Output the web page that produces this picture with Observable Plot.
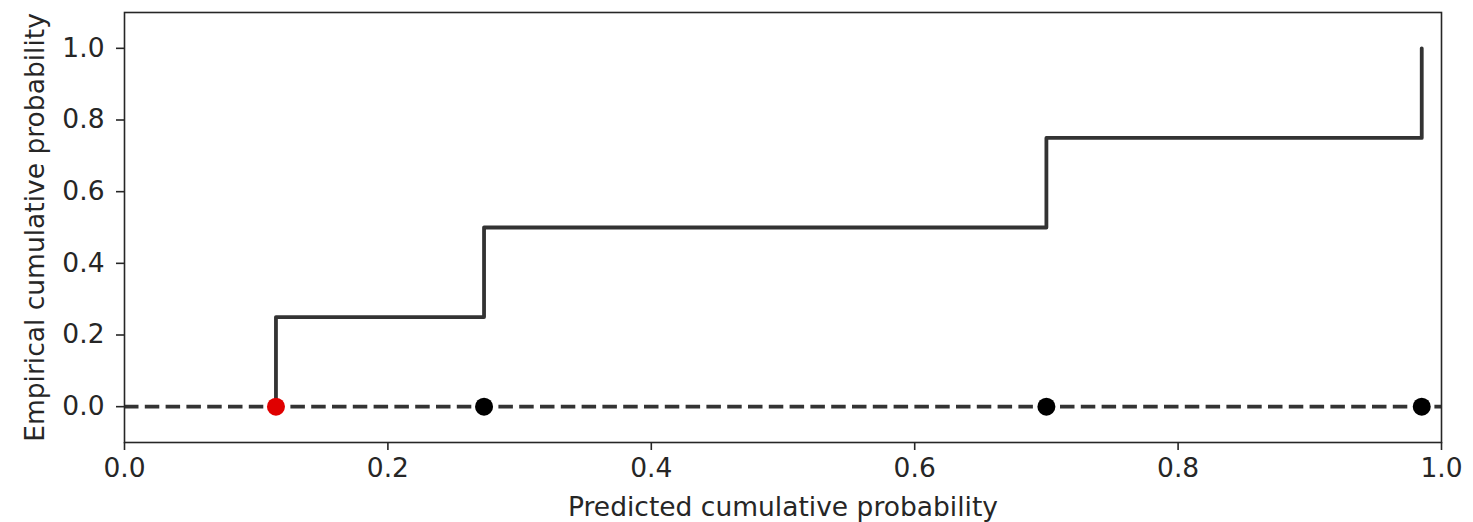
<!DOCTYPE html>
<html>
<head>
<meta charset="utf-8">
<script src="https://cdn.jsdelivr.net/npm/d3@7"></script>
<script src="https://cdn.jsdelivr.net/npm/@observablehq/plot@0.6"></script>
<style>
  html, body { margin: 0; padding: 0; background: #fff; }
  #chart svg { display: block; }
</style>
</head>
<body>
<div id="chart"></div>
<script>
// Predicted vs. empirical cumulative probability (calibration step plot)
const predicted = [0.115, 0.273, 0.700, 0.985];
const empirical = [0.25, 0.5, 0.75, 1.0];
const highlightIndex = 0; // first observation drawn in red

const xTicks = [0, 0.2, 0.4, 0.6, 0.8, 1.0];
const yTicks = [0, 0.2, 0.4, 0.6, 0.8, 1.0];
const xLabel = "Predicted cumulative probability";
const yLabel = "Empirical cumulative probability";

// Step path starts on the baseline at the first prediction
const stepData = [{x: predicted[0], y: 0}]
  .concat(predicted.map((x, i) => ({x, y: empirical[i]})));
const points = predicted.map((x, i) => ({x, y: 0, hi: i === highlightIndex}));

const ink = "#262626";
const fs = 26.5;
const fmt = d => d.toFixed(1);

const chart = Plot.plot({
  width: 1473,
  height: 522,
  marginLeft: 124,
  marginRight: 32,
  marginTop: 12,
  marginBottom: 80,
  style: {fontFamily: "'DejaVu Sans', sans-serif", fontSize: fs + "px", color: ink, background: "#fff"},
  x: {domain: [0, 1]},
  y: {domain: [-0.1, 1.1]},
  marks: [
    Plot.ruleY([0], {x1: 0, x2: 1, stroke: "#333", strokeWidth: 3.8, strokeDasharray: "14.5,6.3"}),
    Plot.line(stepData, {x: "x", y: "y", curve: "step-after", stroke: "#333", strokeWidth: 3.8}),
    Plot.dot(points, {x: "x", y: "y", r: 9, fill: d => d.hi ? "#e00000" : "#000", stroke: "none"}),
    Plot.frame({stroke: ink, strokeWidth: 1.6}),
    Plot.axisX({ticks: xTicks, tickFormat: fmt, tickSize: 8, tickPadding: 8, label: null, stroke: ink, strokeWidth: 1.6, fill: ink, fontSize: fs}),
    Plot.axisY({ticks: yTicks, tickFormat: fmt, tickSize: 8, tickPadding: 12, label: null, stroke: ink, strokeWidth: 1.6, fill: ink, fontSize: fs}),
    Plot.text([xLabel], {frameAnchor: "bottom", dy: 73, lineAnchor: "bottom", textAnchor: "middle", fill: ink, fontSize: fs}),
    Plot.text([yLabel], {frameAnchor: "left", dx: -81, rotate: -90, lineAnchor: "bottom", textAnchor: "middle", fill: ink, fontSize: fs})
  ]
});

document.getElementById("chart").appendChild(chart);
</script>
</body>
</html>
